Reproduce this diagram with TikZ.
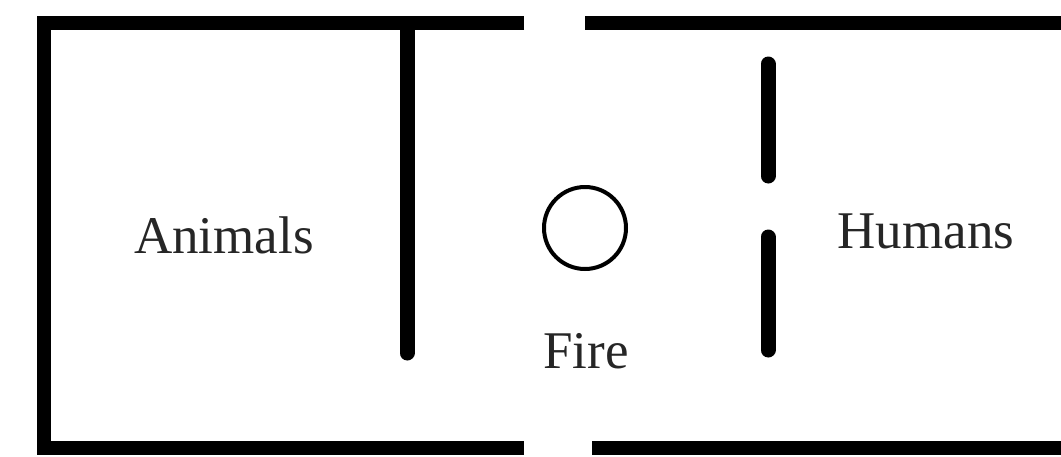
\documentclass[tikz,border=0pt]{standalone}
\usepackage{fontspec}
\setmainfont{Liberation Serif}
\usepackage{tikz}

\begin{document}
\begin{tikzpicture}[x=0.5pt,y=-0.5pt,
       wall/.style={line width=7pt},
       door/.style={line width=7.5pt, line cap=round},
       room/.style={font=\fontsize{26.5}{30}\selectfont, text=black!85, anchor=base, inner sep=0pt},
       hearth/.style={circle, draw, line width=2pt, minimum size=41pt, inner sep=0pt}]
       \useasboundingbox (0,0) rectangle (1061,456);
       % outer walls
       \draw[wall] (524,23) -- (44,23) -- (44,448) -- (524,448);
       \draw[wall] (585,23) -- (1061,23);
       \draw[wall] (592,448) -- (1061,448);
       % inner walls
       \draw[door] (407,30) -- (407,353);
       \draw[door] (768,64) -- (768,176);
       \draw[door] (768,237) -- (768,350);

       \node[room] (animals) at (224,253) {Animals};
       \node[room] (humans) at (926,248) {Humans};
       \node[hearth] (fire) at (585,228) {};
       \node[room] (firelabel) at (586,368) {Fire};
    \end{tikzpicture}
\end{document}
